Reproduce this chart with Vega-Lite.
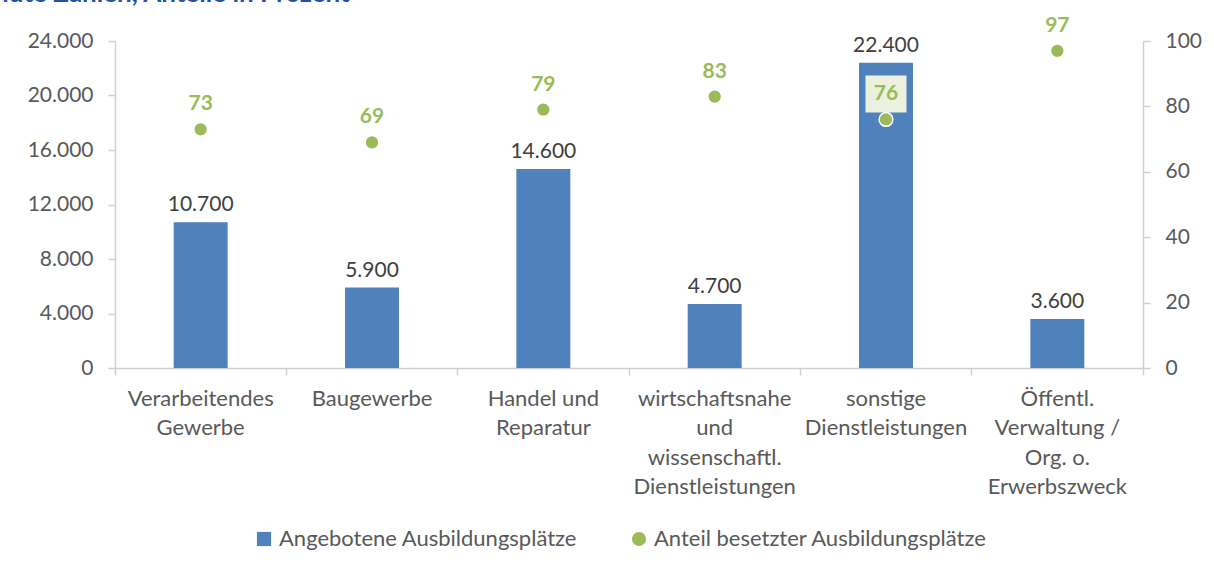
{
  "$schema": "https://vega.github.io/schema/vega-lite/v6.json",
  "autosize": {"type": "none"},
  "width": 1028,
  "height": 327,
  "padding": {"left": 115, "top": 41, "right": 71, "bottom": 204},
  "background": "white",
  "title": {
    "text": "Absolute Zahlen, Anteile in Prozent",
    "anchor": "start",
    "frame": "bounds",
    "font": "Lato",
    "fontSize": 26,
    "fontWeight": "bold",
    "color": "#2152a3",
    "baseline": "alphabetic",
    "offset": 11,
    "dx": -84,
    "dy": 24
  },
  "config": {
    "locale": {
      "number": {"decimal": ",", "thousands": ".", "grouping": [3], "currency": ["", " €"]}
    },
    "view": {"stroke": null},
    "font": "Lato",
    "axis": {
      "labelFont": "Lato",
      "labelColor": "#595959",
      "labelFontSize": 21,
      "domainColor": "#d0d0d0",
      "domainWidth": 1.5,
      "tickColor": "#d0d0d0",
      "tickWidth": 1.5,
      "tickSize": 7,
      "grid": false,
      "title": null
    }
  },
  "data": {
    "values": [
      {"kategorie": "Verarbeitendes\nGewerbe", "angebot": 10700, "anteil": 73},
      {"kategorie": "Baugewerbe", "angebot": 5900, "anteil": 69},
      {"kategorie": "Handel und\nReparatur", "angebot": 14600, "anteil": 79},
      {"kategorie": "wirtschaftsnahe\nund\nwissenschaftl.\nDienstleistungen", "angebot": 4700, "anteil": 83},
      {"kategorie": "sonstige\nDienstleistungen", "angebot": 22400, "anteil": 76},
      {"kategorie": "Öffentl.\nVerwaltung /\nOrg. o.\nErwerbszweck", "angebot": 3600, "anteil": 97}
    ]
  },
  "encoding": {
    "x": {
      "field": "kategorie",
      "type": "nominal",
      "sort": null,
      "scale": {"paddingInner": 0, "paddingOuter": 0},
      "axis": {
        "labelAngle": 0,
        "labelExpr": "datum.value ? split(datum.value, '\\n') : ''",
        "labelFontSize": 22,
        "labelLineHeight": 29.5,
        "labelPadding": 13,
        "labelBaseline": "top",
        "bandPosition": 1,
        "tickExtra": true,
        "labelLimit": 300
      }
    }
  },
  "layer": [
    {
      "layer": [
        {
          "mark": {"type": "bar", "width": {"band": 0.315}},
          "encoding": {
            "y": {
              "field": "angebot",
              "type": "quantitative",
              "scale": {"domain": [0, 24000], "nice": false},
              "axis": {
                "orient": "left",
                "values": [0, 4000, 8000, 12000, 16000, 20000, 24000],
                "format": ",.0f",
                "labelPadding": 15
              }
            },
            "color": {
              "datum": "Angebotene Ausbildungsplätze",
              "type": "nominal",
              "scale": {
                "domain": ["Angebotene Ausbildungsplätze", "Anteil besetzter Ausbildungsplätze"],
                "range": ["#4f81bd", "#9bbb59"]
              },
              "legend": {
                "orient": "none",
                "legendX": 138,
                "legendY": 487,
                "direction": "horizontal",
                "title": null,
                "labelFont": "Lato",
                "labelFontSize": 22,
                "labelColor": "#595959",
                "symbolSize": 200,
                "symbolStrokeWidth": 0,
                "labelOffset": 4,
                "columnPadding": 50,
                "labelLimit": 500,
                "encode": {
                  "symbols": {
                    "update": {
                      "shape": {"signal": "datum.label === 'Angebotene Ausbildungsplätze' ? 'square' : 'circle'"}
                    }
                  }
                }
              }
            }
          }
        },
        {
          "mark": {"type": "text", "baseline": "middle", "dy": -17, "fontSize": 21, "color": "#404040", "font": "Lato"},
          "encoding": {
            "y": {"field": "angebot", "type": "quantitative"},
            "text": {"field": "angebot", "type": "quantitative", "format": ",.0f"}
          }
        }
      ]
    },
    {
      "layer": [
        {
          "transform": [{"filter": "datum.anteil + 8 < datum.angebot / 240"}],
          "mark": {
            "type": "point",
            "shape": "M-1,-0.9L1,-0.9L1,0.9L-1,0.9Z",
            "size": 1681,
            "filled": true,
            "color": "#ebf1de",
            "opacity": 1,
            "yOffset": -25.5
          },
          "encoding": {
            "y": {"field": "anteil", "type": "quantitative"}
          }
        },
        {
          "mark": {"type": "point", "filled": true, "size": 190, "opacity": 1, "stroke": "#ffffff", "strokeWidth": 1.5},
          "encoding": {
            "y": {
              "field": "anteil",
              "type": "quantitative",
              "scale": {"domain": [0, 100], "nice": false},
              "axis": {
                "orient": "right",
                "values": [0, 20, 40, 60, 80, 100],
                "labelPadding": 15
              }
            },
            "color": {"datum": "Anteil besetzter Ausbildungsplätze", "type": "nominal"}
          }
        },
        {
          "mark": {"type": "text", "baseline": "middle", "dy": -25, "fontSize": 21, "fontWeight": "bold", "color": "#9bbb59", "font": "Lato"},
          "encoding": {
            "y": {"field": "anteil", "type": "quantitative"},
            "text": {"field": "anteil", "type": "quantitative"}
          }
        }
      ]
    }
  ],
  "resolve": {"scale": {"y": "independent"}}
}
